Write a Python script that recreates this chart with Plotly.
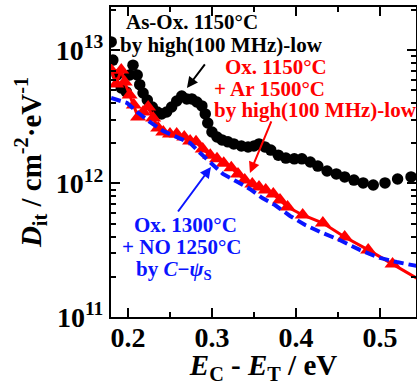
import plotly.graph_objects as go

# ---- data (E_C - E_T in eV, Dit in cm^-2 eV^-1) ----
asox_e = [0.180, 0.182, 0.187, 0.192, 0.198, 0.202, 0.206, 0.211, 0.214, 0.218,
          0.223, 0.229, 0.235, 0.240, 0.246, 0.252, 0.258, 0.264, 0.270, 0.276,
          0.282, 0.288, 0.292, 0.295, 0.300, 0.306, 0.312, 0.319, 0.326, 0.335,
          0.343, 0.350, 0.356, 0.363, 0.370, 0.379, 0.388, 0.398, 0.407, 0.417,
          0.426, 0.437, 0.448, 0.458, 0.469, 0.480, 0.492, 0.506, 0.521, 0.537]
asox_d = [1.15e13, 8.4e12, 6.5e12, 5.2e12, 4.85e12, 6.5e12, 7.7e12, 6.5e12, 5.5e12, 4.76e12,
          4.22e12, 3.74e12, 3.43e12, 3.32e12, 3.43e12, 3.74e12, 4.15e12, 4.52e12, 4.3e12, 4.3e12,
          4.08e12, 3.81e12, 3.32e12, 2.84e12, 2.43e12, 2.23e12, 2.12e12, 2.05e12, 1.98e12, 1.91e12,
          1.88e12, 1.91e12, 1.98e12, 1.88e12, 1.78e12, 1.63e12, 1.55e12, 1.53e12, 1.53e12, 1.45e12,
          1.35e12, 1.24e12, 1.18e12, 1.12e12, 1.06e12, 1.01e12, 0.975e12, 1.01e12, 1.08e12, 1.12e12]

ar_e = [0.180, 0.186, 0.192, 0.196, 0.202, 0.207, 0.212, 0.218, 0.224, 0.230,
        0.236, 0.242, 0.250, 0.258, 0.267, 0.274, 0.281, 0.289, 0.298, 0.306,
        0.314, 0.323, 0.331, 0.339, 0.348, 0.356, 0.364, 0.373, 0.381, 0.390,
        0.408, 0.432, 0.458, 0.486, 0.515, 0.562]
ar_d = [7.08e12, 5.56e12, 7.08e12, 5.76e12, 4.6e12, 3.87e12, 3.15e12, 3.43e12, 3.74e12, 3.1e12,
        2.6e12, 2.43e12, 2.35e12, 2.35e12, 2.23e12, 2.08e12, 2.05e12, 1.81e12, 1.63e12, 1.53e12,
        1.42e12, 1.31e12, 1.18e12, 1.06e12, 0.99e12, 0.94e12, 0.894e12, 0.834e12, 0.752e12, 0.667e12,
        0.581e12, 0.506e12, 0.397e12, 0.318e12, 0.249e12, 0.168e12]

no_e = [0.180, 0.188, 0.199, 0.211, 0.226, 0.242, 0.258, 0.274, 0.286, 0.298,
        0.313, 0.330, 0.345, 0.360, 0.375, 0.393, 0.411, 0.429, 0.452, 0.476,
        0.500, 0.520, 0.544]
no_d = [4.37e12, 4.22e12, 4.01e12, 3.43e12, 2.89e12, 2.47e12, 2.23e12, 2.01e12, 1.69e12, 1.45e12,
        1.18e12, 1.03e12, 0.91e12, 0.778e12, 0.69e12, 0.571e12, 0.489e12, 0.433e12, 0.377e12, 0.318e12,
        0.277e12, 0.258e12, 0.241e12]

x_tickvals = [0.2, 0.3, 0.4, 0.5]
x_ticktext = ["0.2", "0.3", "0.4", "0.5"]
y_tickvals = [1e11, 1e12, 1e13]
y_ticktext = ["10<sup>11</sup>", "10<sup>12</sup>", "10<sup>13</sup>"]
y_minor = [m * 10 ** p for p in (11, 12, 13) for m in range(2, 10)]

FONT = "Liberation Serif, Times New Roman, serif"
BLUE = "#0a14ff"
RED = "#ff0000"

fig = go.Figure()
fig.add_trace(go.Scatter(x=asox_e, y=asox_d, mode="markers",
                         marker=dict(symbol="circle", size=11.5, color="black"),
                         showlegend=False))
fig.add_trace(go.Scatter(x=ar_e, y=ar_d, mode="lines+markers",
                         line=dict(color=RED, width=3),
                         marker=dict(symbol="triangle-up", size=14, color=RED),
                         showlegend=False))
fig.add_trace(go.Scatter(x=no_e, y=no_d, mode="lines",
                         line=dict(color=BLUE, width=4, dash="10px,5px"),
                         showlegend=False))

def txt(s, x, y, color, anchor="center"):
    fig.add_annotation(x=x, y=y, xref="x", yref="y", text=s, showarrow=False,
                       xanchor=anchor, yanchor="middle",
                       font=dict(family=FONT, size=21, color=color, weight="bold"))

txt("As-Ox. 1150°C", 0.2768, 13.210, "black")
txt("by high(100 MHz)-low", 0.3113, 13.037, "black")
txt("Ox. 1150°C", 0.3762, 12.873, RED)
txt("+ Ar 1500°C", 0.3685, 12.708, RED)
txt("by high(100 MHz)-low", 0.300, 12.551, RED, anchor="left")
txt("Ox. 1300°C", 0.2679, 11.689, BLUE)
txt("+ NO 1250°C", 0.2649, 11.524, BLUE)
txt("by <i>C</i>−<i>ψ</i><sub>S</sub>", 0.2548, 11.352, BLUE)

def arrow(x0, y0, x1, y1, color):
    fig.add_annotation(x=x1, y=y1, ax=x0, ay=y0, xref="x", yref="y",
                       axref="x", ayref="y", text="", showarrow=True,
                       arrowhead=2, arrowsize=1.1, arrowwidth=2, arrowcolor=color)

arrow(0.2929, 12.903, 0.2702, 12.715, "black")
arrow(0.3714, 12.476, 0.3452, 12.079, RED)
arrow(0.2583, 11.779, 0.2988, 12.124, BLUE)

fig.update_xaxes(range=[0.1798, 0.5429], showgrid=False, zeroline=False, automargin=False,
                 showline=True, linecolor="black", linewidth=2, mirror="allticks",
                 ticks="inside", ticklen=9, tickwidth=1.5, tickcolor="black",
                 tickvals=x_tickvals, ticktext=x_ticktext, ticklabelstandoff=-6,
                 tickfont=dict(family=FONT, size=28, color="black", weight="bold"),
                 minor=dict(tickvals=[0.25, 0.35, 0.45], ticks="inside", ticklen=5,
                            tickwidth=1.5, tickcolor="black"),
                 title=dict(text="<i>E</i><sub>C</sub> - <i>E</i><sub>T</sub> / eV",
                            font=dict(family=FONT, size=29, color="black", weight="bold"),
                            standoff=12))
fig.update_yaxes(type="log", range=[11, 13.322], showgrid=False, zeroline=False, automargin=False,
                 showline=True, linecolor="black", linewidth=2, mirror="allticks",
                 ticks="inside", ticklen=9, tickwidth=1.5, tickcolor="black",
                 tickvals=y_tickvals, ticktext=y_ticktext,
                 tickfont=dict(family=FONT, size=28, color="black", weight="bold"),
                 minor=dict(tickvals=y_minor, ticks="inside", ticklen=5,
                            tickwidth=1.5, tickcolor="black"),
                 title=dict(text="<i>D</i><sub>it</sub> / cm<sup>-2</sup>·eV<sup>-1</sup>",
                            font=dict(family=FONT, size=29, color="black", weight="bold"),
                            standoff=6))

fig.update_layout(width=417, height=385, margin=dict(l=111, r=1, t=7, b=68),
                  plot_bgcolor="white", paper_bgcolor="white")

fig.write_html("out.html", config={"displayModeBar": False},
               post_script="document.body.style.margin='0';document.body.style.overflow='hidden';")
